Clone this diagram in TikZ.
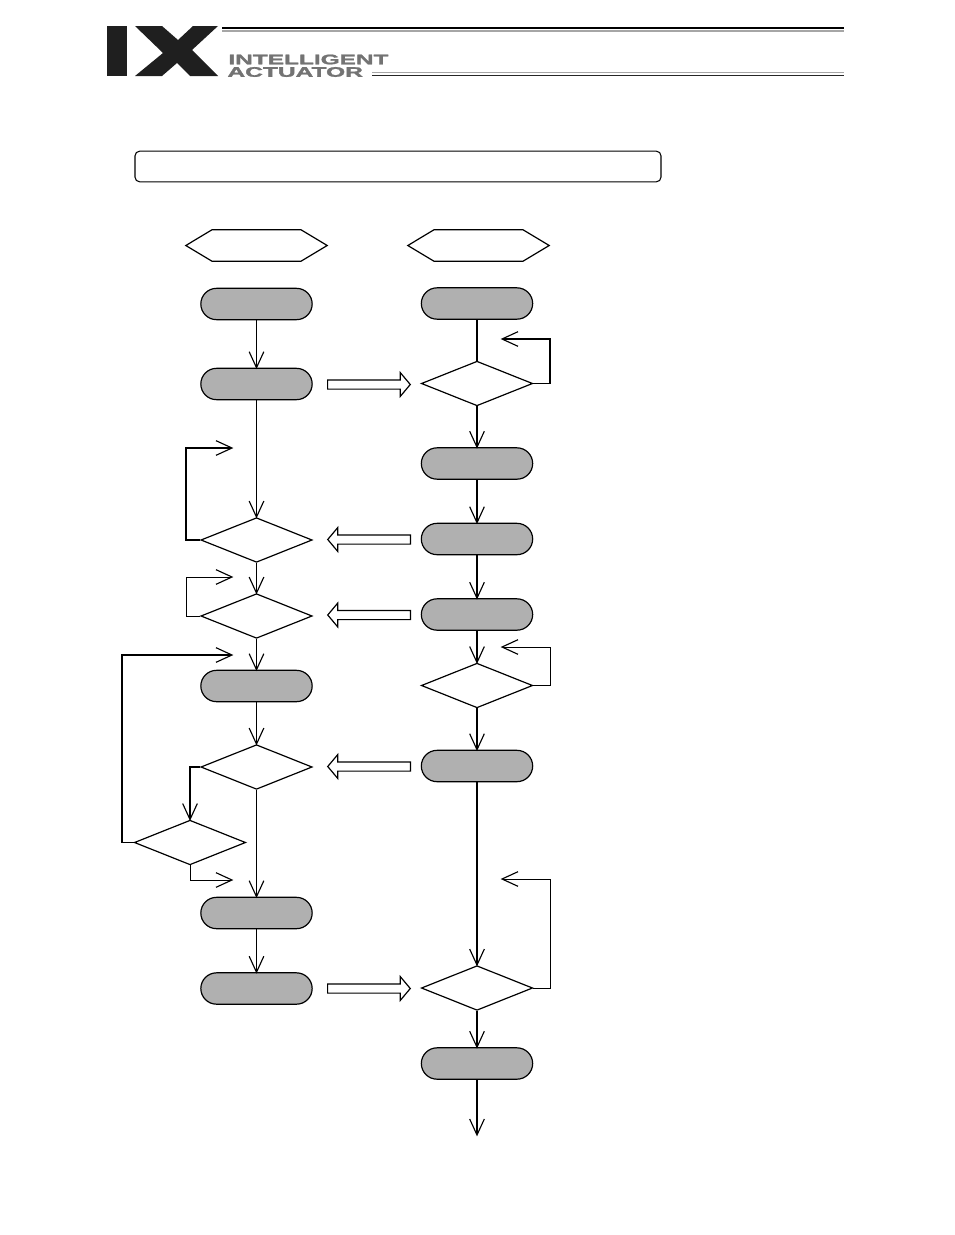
\documentclass[tikz,border=0pt]{standalone}
\usepackage{fontspec}
\setmainfont{Liberation Sans}
\newfontfamily\brandfont[FakeBold=1.5]{Liberation Sans}
\usetikzlibrary{arrows.meta, shapes.geometric, shapes.misc, shapes.symbols, shapes.arrows}

\tikzset{
  flow/.style={line width=0.75pt, shorten >=-1pt, -{Straight Barb[length=12pt, width=11pt, line width=0.85pt]}},
  flowbold/.style={flow, line width=1.3pt},
  plainflow/.style={line width=1.3pt},
  stepbox/.style={draw, fill=black!31, line width=0.9pt, rounded rectangle, minimum width=83.5pt, minimum height=23.5pt, inner sep=0pt},
  choice/.style={draw, fill=white, line width=0.9pt, diamond, minimum width=83.5pt, minimum height=33.5pt, inner sep=0pt},
  prep/.style={draw, line width=0.9pt, signal, signal to=east and west, signal pointer angle=62, minimum width=106pt, minimum height=23.5pt, inner sep=0pt},
  signalright/.style={draw, fill=white, line width=0.9pt, single arrow, minimum width=17pt, minimum height=62pt, single arrow head extend=5.5pt, single arrow tip angle=100, single arrow head indent=0pt, inner xsep=0pt, inner ysep=3pt},
  signalleft/.style={signalright, shape border rotate=180}
}

\begin{document}
\begin{tikzpicture}[x=0.75pt, y=-0.75pt]
  \useasboundingbox (0,0) rectangle (954,1235);

  % --- header ---
  \fill[black!88] (107,26) rectangle (127,76);
  \fill[black!88] (135,26) -- (162,26) -- (178,40) -- (193,26) -- (218,26) -- (192,50) -- (218,76) -- (190,76) -- (177,63) -- (162,76) -- (135,76) -- (163,53) -- cycle;
  \node[anchor=west, inner sep=0pt, xscale=1.76, font=\fontsize{10.4}{10.4}\brandfont\bfseries, text=black!55] (brandtop) at (228,59.5) {INTELLIGENT};
  \node[anchor=west, inner sep=0pt, xscale=1.77, font=\fontsize{10.4}{10.4}\brandfont\bfseries, text=black!55] (brandbot) at (227,72) {ACTUATOR};
  \draw[line width=1.6pt] (222,28) -- (844,28);
  \draw[line width=0.8pt, black!35] (222,31) -- (844,31);
  \draw[line width=0.8pt, black!35] (372,72.5) -- (844,72.5);
  \draw[line width=1pt, black!85] (372,75.2) -- (844,75.2);

  % --- title box ---
  \node[draw, line width=0.8pt, rounded corners=3.5pt, minimum width=394.5pt, minimum height=23pt, inner sep=0pt] (title) at (398,166.5) {};

  % --- left column ---
  \node[prep] (lstart) at (256.5,245.5) {};
  \node[stepbox] (la) at (256.5,304) {};
  \node[stepbox] (lb) at (256.5,384) {};
  \node[choice] (lc) at (256.5,540) {};
  \node[choice] (ld) at (256.5,616) {};
  \node[stepbox] (le) at (256.5,686) {};
  \node[choice] (lf) at (256.5,767) {};
  \node[choice] (lg) at (190,842.5) {};
  \node[stepbox] (lh) at (256.5,913) {};
  \node[stepbox] (li) at (256.5,988.5) {};

  % --- right column ---
  \node[prep] (rstart) at (478.5,245.5) {};
  \node[stepbox] (ra) at (477,303.5) {};
  \node[choice] (rb) at (477,383.5) {};
  \node[stepbox] (rc) at (477,463.5) {};
  \node[stepbox] (rd) at (477,539) {};
  \node[stepbox] (re) at (477,614.5) {};
  \node[choice] (rf) at (477,685.5) {};
  \node[stepbox] (rg) at (477,766) {};
  \node[choice] (rh) at (477,988) {};
  \node[stepbox] (ri) at (477,1063.5) {};
  \coordinate (rend) at (477,1135);

  % --- free ends of the loops ---
  \coordinate (lcend) at (232,448);
  \coordinate (ldend) at (232,577);
  \coordinate (lgend) at (232,655);
  \coordinate (lgout) at (232,880);
  \coordinate (rbend) at (502,339);
  \coordinate (rfend) at (502,647);
  \coordinate (rhend) at (502,879);

  % --- left flow ---
  \draw[flow] (la) -- (lb);
  \draw[flow] (lb) -- (lc);
  \draw[flow] (lc) -- (ld);
  \draw[flow] (ld) -- (le);
  \draw[flow] (le) -- (lf);
  \draw[flow] (lf) -- (lh);
  \draw[flow] (lh) -- (li);
  \draw[flowbold] (lc.west) -- (186,540) |- (lcend);
  \draw[flow] (ld.west) -- (186,616) |- (ldend);
  \draw[flowbold] (lf.west) -| (lg.north);
  \draw[flowbold] (lg.west) -- (122,842.5) |- (lgend);
  \draw[flow] (lg.south) |- (lgout);

  % --- right flow ---
  \draw[plainflow] (ra) -- (rb);
  \draw[flowbold] (rb) -- (rc);
  \draw[flowbold] (rc) -- (rd);
  \draw[flowbold] (rd) -- (re);
  \draw[flowbold] (re) -- (rf);
  \draw[flowbold] (rf) -- (rg);
  \draw[flowbold] (rg) -- (rh);
  \draw[flowbold] (rh) -- (ri);
  \draw[flowbold] (ri) -- (rend);
  \draw[flowbold] (rb.east) -- (550,383.5) |- (rbend);
  \draw[flow] (rf.east) -- (550,685.5) |- (rfend);
  \draw[flow] (rh.east) -- (550,988) |- (rhend);

  % --- signals between the columns ---
  \node[signalright] (sa) at (367,384.5) {};
  \node[signalleft] (sb) at (371,539.5) {};
  \node[signalleft] (sc) at (371,615) {};
  \node[signalleft] (sd) at (371,766.5) {};
  \node[signalright] (se) at (367,988.5) {};
\end{tikzpicture}
\end{document}
